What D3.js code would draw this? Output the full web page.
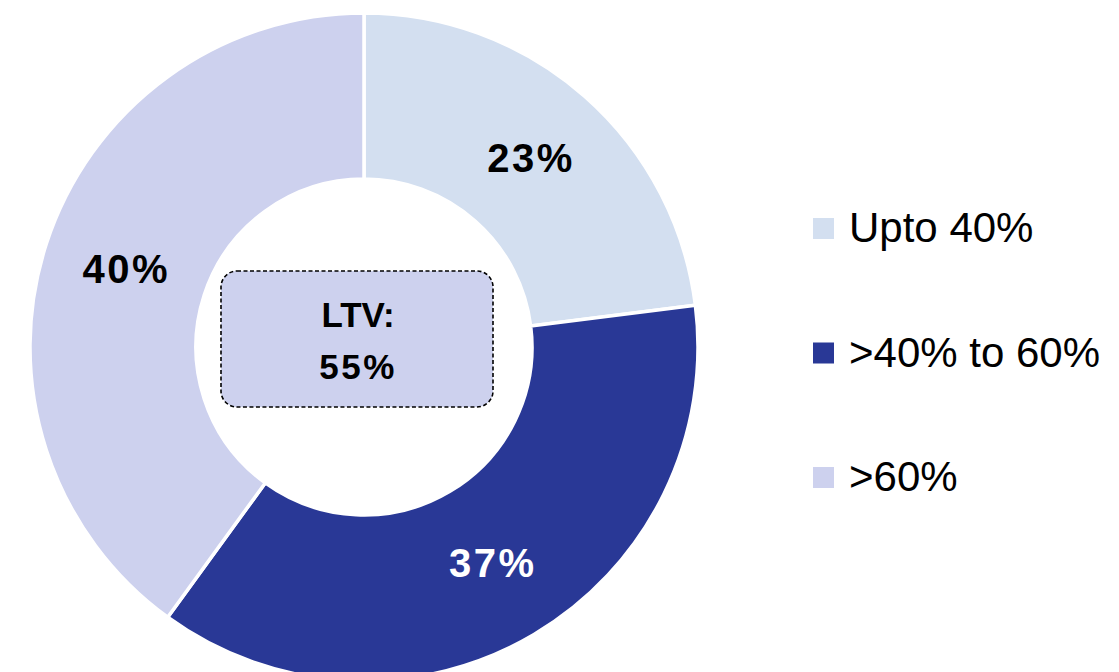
<!DOCTYPE html>
<html>
<head>
<meta charset="utf-8">
<script src="https://cdn.jsdelivr.net/npm/d3@7"></script>
<style>
  html, body { margin: 0; padding: 0; background: #fff; }
  svg { display: block; }
</style>
</head>
<body>
<svg id="chart" width="1119" height="672"></svg>
<script>
// LTV distribution of the loan book
const categories = ["Upto 40%", ">40% to 60%", ">60%"];
const shares = [23, 37, 40];
const colors = ["#D3DFF0", "#293896", "#CDD1EE"];
const labelColors = ["#000000", "#ffffff", "#000000"];
const centerLines = ["LTV:", "55%"];

const svg = d3.select("#chart");
const cx = 364, cy = 347;
const outerR = 334, innerR = 168;

const pie = d3.pie().sort(null).value(d => d.value);
const arc = d3.arc().innerRadius(innerR).outerRadius(outerR);
const labelArc = d3.arc().innerRadius((innerR + outerR) / 2).outerRadius((innerR + outerR) / 2);

const data = categories.map((c, i) => ({ name: c, value: shares[i], i }));
const arcs = pie(data);

const g = svg.append("g").attr("transform", `translate(${cx},${cy})`);

g.selectAll("path.slice")
  .data(arcs)
  .join("path")
  .attr("class", "slice")
  .attr("d", arc)
  .attr("fill", d => colors[d.data.i])
  .attr("stroke", "#fff")
  .attr("stroke-width", 3.5)
  .attr("stroke-linejoin", "miter");

g.selectAll("text.value")
  .data(arcs)
  .join("text")
  .attr("class", "value")
  .attr("transform", d => `translate(${labelArc.centroid(d)})`)
  .attr("text-anchor", "middle")
  .attr("dx", 1)
  .attr("dy", "0.34em")
  .attr("font-family", "'Liberation Sans', Arial, sans-serif")
  .attr("font-weight", "bold")
  .attr("font-size", 40)
  .attr("letter-spacing", 2.5)
  .attr("fill", d => labelColors[d.data.i])
  .text(d => d.data.value + "%");

// Centre callout box
const boxW = 272, boxH = 136;
g.append("rect")
  .attr("x", 221 - cx)
  .attr("y", 271 - cy)
  .attr("width", boxW)
  .attr("height", boxH)
  .attr("rx", 16)
  .attr("fill", "#CDD1EE")
  .attr("stroke", "#000")
  .attr("stroke-width", 1.6)
  .attr("stroke-dasharray", "4,2.5");

g.selectAll("text.center")
  .data(centerLines)
  .join("text")
  .attr("class", "center")
  .attr("x", 358 - cx)
  .attr("y", (d, i) => 327 - cy + i * 52)
  .attr("text-anchor", "middle")
  .attr("font-family", "'Liberation Sans', Arial, sans-serif")
  .attr("font-weight", "bold")
  .attr("font-size", 35)
  .attr("letter-spacing", (d, i) => i === 1 ? 2.5 : 0)
  .attr("fill", "#000")
  .text(d => d);

// Legend
const legend = svg.append("g").attr("transform", "translate(813,218)");
const item = legend.selectAll("g.item")
  .data(categories)
  .join("g")
  .attr("class", "item")
  .attr("transform", (d, i) => `translate(0,${i * 124.5})`);

item.append("rect")
  .attr("width", 21)
  .attr("height", 21)
  .attr("fill", (d, i) => colors[i]);

item.append("text")
  .attr("x", 36)
  .attr("y", 24)
  .attr("font-family", "'Liberation Sans', Arial, sans-serif")
  .attr("font-size", 42)
  .attr("fill", "#000")
  .text(d => d);
</script>
</body>
</html>
